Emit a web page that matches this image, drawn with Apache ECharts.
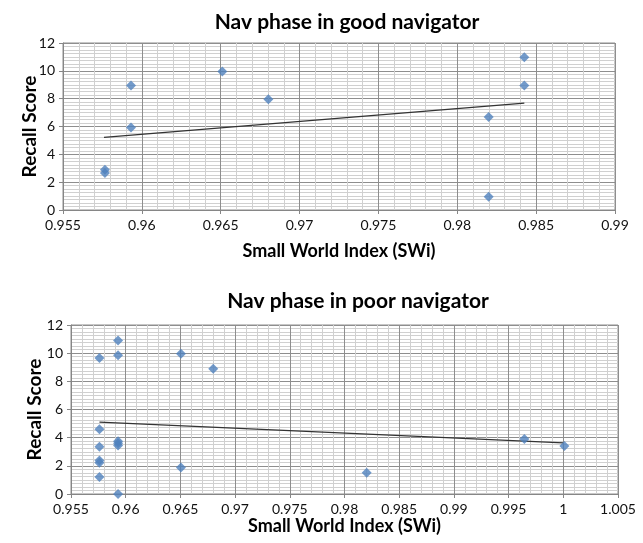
<!DOCTYPE html>
<html>
<head>
<meta charset="utf-8">
<script src="https://cdn.jsdelivr.net/npm/echarts@6/dist/echarts.min.js"></script>
<style>
html,body{margin:0;padding:0;background:#fff;}
#c{width:643px;height:543px;}
</style>
</head>
<body>
<div id="c"></div>
<script>
// ---- Data ----
const titleGood = 'Nav phase in good navigator';
const titlePoor = 'Nav phase in poor navigator';
const xAxisTitle = 'Small World Index (SWi)';
const yAxisTitle = 'Recall Score';

const goodX = [0.95766, 0.95766, 0.95931, 0.95931, 0.9651, 0.96802, 0.98199, 0.98199, 0.98425, 0.98425];
const goodY = [2.9, 2.65, 8.95, 5.93, 9.95, 7.95, 6.68, 0.95, 10.97, 8.95];
const goodTrendX = [0.9576, 0.98425];
const goodTrendY = [5.22, 7.68];

const poorX = [0.9576, 0.9576, 0.9576, 0.9576, 0.9576, 0.9576,
               0.9593, 0.9593, 0.9593, 0.9593, 0.9593, 0.9593,
               0.96505, 0.96505, 0.968, 0.98203, 0.99644, 1.0001];
const poorY = [9.65, 4.6, 3.36, 2.38, 2.22, 1.2,
               10.9, 9.85, 3.75, 3.6, 3.45, 0,
               9.95, 1.88, 8.9, 1.51, 3.9, 3.4];
const poorTrendX = [0.9576, 1.0];
const poorTrendY = [5.1, 3.63];

// ---- Chart ----
const pair = (xs, ys) => xs.map((x, i) => [x, ys[i]]);
const FONT = 'Lato';
const markerColor = '#4F81BD';

function xAxisCfg(gridIndex, min, max, nameGap) {
  return {
    type: 'value', gridIndex, min, max, interval: 0.005,
    name: xAxisTitle, nameLocation: 'middle', nameGap,
    nameTextStyle: {fontFamily: FONT, fontWeight: 'bold', fontSize: 18, color: '#000'},
    axisLine: {show: true, lineStyle: {color: '#868686', width: 1}},
    axisTick: {show: true, length: 4, lineStyle: {color: '#868686'}},
    axisLabel: {fontFamily: FONT, fontSize: 14, color: '#111', margin: 8},
    splitLine: {show: true, lineStyle: {color: '#8e8e8e', width: 1}},
    minorTick: {show: false, splitNumber: 5},
    minorSplitLine: {show: true, lineStyle: {color: '#d0d0d0', width: 1}}
  };
}
function yAxisCfg(gridIndex, nameGap) {
  return {
    type: 'value', gridIndex, min: 0, max: 12, interval: 2,
    name: yAxisTitle, nameLocation: 'middle', nameGap, nameMoveOverlap: false,
    nameTextStyle: {fontFamily: FONT, fontWeight: 'bold', fontSize: 19, color: '#000'},
    axisLine: {show: true, lineStyle: {color: '#868686', width: 1}},
    axisTick: {show: true, length: 4, lineStyle: {color: '#868686'}},
    axisLabel: {fontFamily: FONT, fontSize: 14, color: '#111', margin: 8},
    splitLine: {show: true, lineStyle: {color: '#8e8e8e', width: 1}},
    minorTick: {show: false, splitNumber: 8},
    minorSplitLine: {show: true, lineStyle: {color: '#d0d0d0', width: 1}}
  };
}

const chart = echarts.init(document.getElementById('c'), null, {renderer: 'canvas'});
chart.setOption({
  animation: false,
  backgroundColor: '#fff',
  title: [
    {text: titleGood, left: 347, top: 12, textAlign: 'center', padding: 0,
     textStyle: {fontFamily: FONT, fontWeight: 'bold', fontSize: 21, color: '#000'}},
    {text: titlePoor, left: 358, top: 291, textAlign: 'center', padding: 0,
     textStyle: {fontFamily: FONT, fontWeight: 'bold', fontSize: 21, color: '#000'}}
  ],
  grid: [
    {left: 63, top: 43, width: 552, height: 167, show: true, borderColor: '#8e8e8e', borderWidth: 1},
    {left: 71, top: 325, width: 547, height: 169, show: true, borderColor: '#8e8e8e', borderWidth: 1}
  ],
  xAxis: [xAxisCfg(0, 0.955, 0.99, 32), xAxisCfg(1, 0.955, 1.005, 22)],
  yAxis: [yAxisCfg(0, 24), yAxisCfg(1, 27)],
  series: [
    {type: 'line', xAxisIndex: 0, yAxisIndex: 0, data: pair(goodTrendX, goodTrendY),
     symbol: 'none', lineStyle: {color: '#333', width: 1.3}, silent: true, z: 2},
    {type: 'scatter', xAxisIndex: 0, yAxisIndex: 0, data: pair(goodX, goodY),
     symbol: 'diamond', symbolSize: 10, itemStyle: {color: markerColor}, z: 3},
    {type: 'line', xAxisIndex: 1, yAxisIndex: 1, data: pair(poorTrendX, poorTrendY),
     symbol: 'none', lineStyle: {color: '#333', width: 1.3}, silent: true, z: 2},
    {type: 'scatter', xAxisIndex: 1, yAxisIndex: 1, data: pair(poorX, poorY),
     symbol: 'diamond', symbolSize: 10, itemStyle: {color: markerColor}, z: 3}
  ]
});
</script>
</body>
</html>
